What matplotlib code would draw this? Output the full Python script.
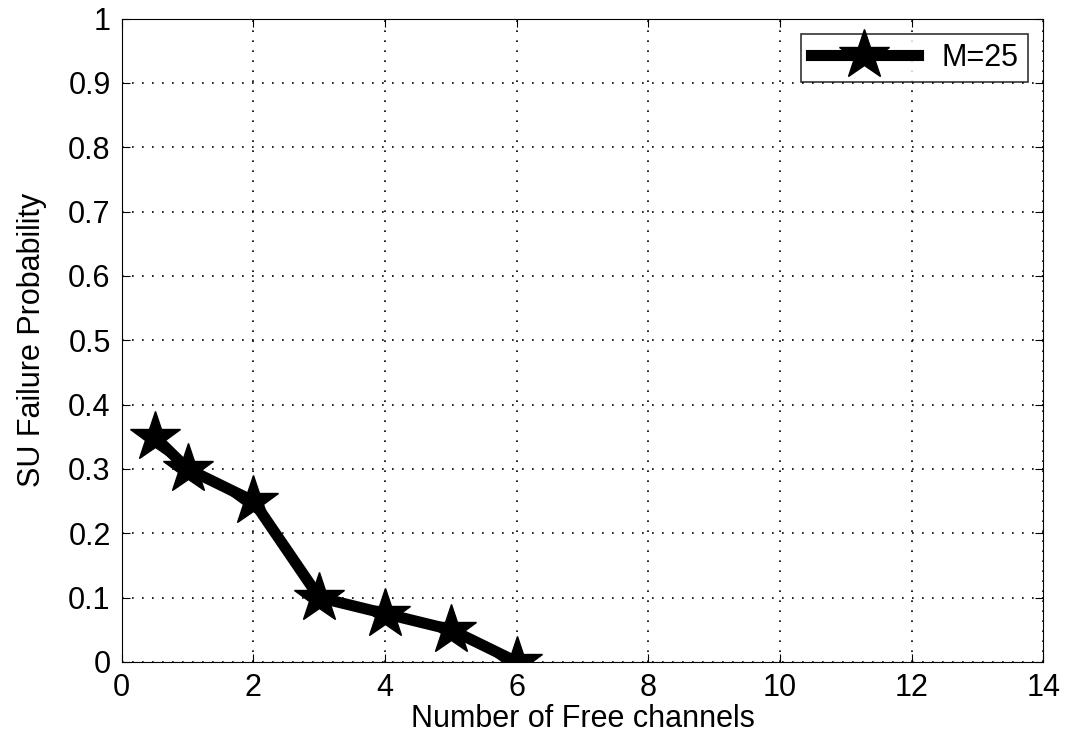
import matplotlib
matplotlib.use("Agg")
import matplotlib.pyplot as plt
import numpy as np

plt.rcParams['font.family'] = ['Liberation Sans', 'DejaVu Sans']

channels = [0.5, 1, 2, 3, 4, 5, 6]
failure_prob = [0.35, 0.30, 0.25, 0.10, 0.075, 0.05, 0.0]

fig = plt.figure(figsize=(10.68, 7.47), dpi=100)
ax = fig.add_axes([0.114, 0.114, 0.863, 0.861])

ax.plot(channels, failure_prob, '-*k', linewidth=8, markersize=38, label='M=25')

ax.set_xlim(0, 14)
ax.set_ylim(0, 1)
ax.set_xticks(np.arange(0, 15, 2))
ax.set_yticks(np.arange(0, 1.01, 0.1))
ax.set_yticklabels(['0', '0.1', '0.2', '0.3', '0.4', '0.5', '0.6', '0.7', '0.8', '0.9', '1'])
ax.grid(True, linestyle=(0, (1, 5)), color='black', linewidth=1.2)
ax.tick_params(direction='in', top=True, right=True, labelsize=22, length=6, pad=8)
ax.set_xlabel('Number of Free channels', fontsize=22, labelpad=1)
ax.set_ylabel('SU Failure Probability', fontsize=22, labelpad=15)

leg = ax.legend(loc='upper right', fontsize=22, fancybox=False, edgecolor='black',
                handlelength=3.5, borderaxespad=0.5, borderpad=0.3)
leg.get_frame().set_linewidth(1.2)

fig.savefig('out.png', dpi=100)
